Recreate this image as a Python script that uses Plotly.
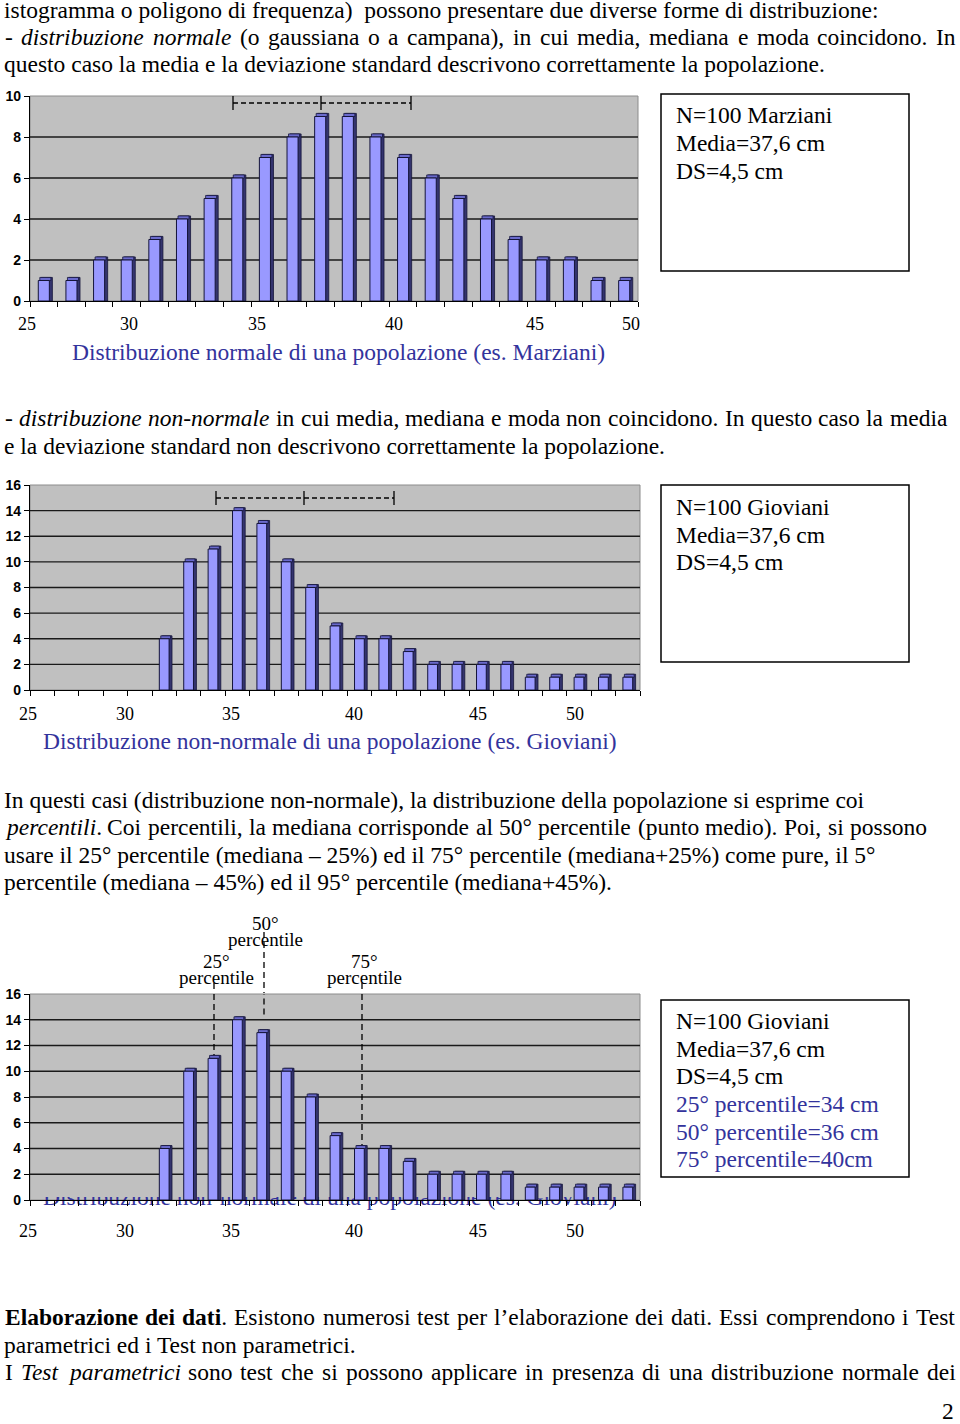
import re
import plotly.graph_objects as go

W, H = 960, 1424


def px(x):
    return x / W


def py(y):
    return 1 - y / H


SERIF = "Times New Roman, Liberation Serif, serif"
SANS = "Arial, Liberation Sans, sans-serif"
BLUE = "#33339c"
FS = 23.5  # body text size

# ---------------- data ----------------
normal_counts = [1, 1, 2, 2, 3, 4, 5, 6, 7, 8, 9, 9, 8, 7, 6, 5, 4, 3, 2, 2, 1, 1]
nonnormal_counts = [None, None, None, None, None,
                    4, 10, 11, 14, 13, 10, 8, 5, 4, 4, 3, 2, 2, 2, 2, 1, 1, 1, 1, 1]
x_labels = ["25", "30", "35", "40", "45", "50"]
yticks_normal = [0, 2, 4, 6, 8, 10]
yticks_nonnormal = [0, 2, 4, 6, 8, 10, 12, 14, 16]
box1_lines = ["N=100 Marziani", "Media=37,6 cm", "DS=4,5 cm"]
box2_lines = ["N=100 Gioviani", "Media=37,6 cm", "DS=4,5 cm"]
box3_blue = ["25° percentile=34 cm", "50° percentile=36 cm", "75° percentile=40cm"]
caption1 = "Distribuzione normale di una popolazione (es. Marziani)"
caption2 = "Distribuzione non-normale di una popolazione (es. Gioviani)"
percentile_names = ["25°", "50°", "75°"]

# (y centre, text, right edge if justified else None)
text_lines = [
    (10, "istogramma o poligono di frequenza)  possono presentare due diverse forme di distribuzione:", None),
    (37, "- <i>distribuzione normale</i> (o gaussiana o a campana), in cui media, mediana e moda coincidono. In", 955),
    (64, "questo caso la media e la deviazione standard descrivono correttamente la popolazione.", None),
    (418, "- <i>distribuzione non-normale</i> in cui media, mediana e moda non coincidono. In questo caso la media", 946),
    (446, "e la deviazione standard non descrivono correttamente la popolazione.", None),
    (800, "In questi casi (distribuzione non-normale), la distribuzione della popolazione si esprime coi", None),
    (827, "<i>percentili</i>. Coi percentili, la mediana corrisponde al 50° percentile (punto medio). Poi, si possono", 926),
    (855, "usare il 25° percentile (mediana – 25%) ed il 75° percentile (mediana+25%) come pure, il 5°", None),
    (882, "percentile (mediana – 45%) ed il 95° percentile (mediana+45%).", None),
    (1317, "<b>Elaborazione dei dati</b>. Esistono numerosi test per l’elaborazione dei dati. Essi comprendono i Test", 955),
    (1345, "parametrici ed i Test non parametrici.", None),
    (1372, "I <i>Test parametrici</i> sono test che si possono applicare in presenza di una distribuzione normale dei", 955),
]

# ---------------- layout geometry (pixels) ----------------
charts = [
    dict(xa="x", ya="y", counts=normal_counts, yticks=yticks_normal,
         left=30, right=638, top=96, bottom=301, dx=0.11, dy=0.15),
    dict(xa="x2", ya="y2", counts=nonnormal_counts, yticks=yticks_nonnormal,
         left=30, right=640, top=485, bottom=690, dx=0.12, dy=0.23),
    dict(xa="x4", ya="y4", counts=nonnormal_counts, yticks=yticks_nonnormal,
         left=30, right=640, top=994, bottom=1200, dx=0.12, dy=0.23),
]

fig = go.Figure()

# caption hidden behind chart 3 (clipped subplot drawn first)
fig.add_trace(go.Scatter(
    x=[43], y=[1199], mode="text", text=[caption2], textposition="middle right",
    textfont=dict(family=SERIF, size=FS, color=BLUE), cliponaxis=True,
    xaxis="x3", yaxis="y3", hoverinfo="skip", showlegend=False))

BAR_W = 0.4
for c in charts:
    n = len(c["counts"])
    xs = list(range(n))
    vals = c["counts"]
    side = [None if v is None else v + c["dy"] for v in vals]
    topf = [None if v is None else c["dy"] for v in vals]
    base = [0 if v is None else v for v in vals]
    fig.add_trace(go.Bar(x=xs, y=side, width=BAR_W, offset=-BAR_W / 2 + c["dx"],
                         marker=dict(color="#34346e", line=dict(color="#14143a", width=0.8)),
                         xaxis=c["xa"], yaxis=c["ya"], showlegend=False, hoverinfo="skip"))
    fig.add_trace(go.Bar(x=xs, y=topf, base=base, width=BAR_W, offset=-BAR_W / 2 + c["dx"] * 0.5,
                         marker=dict(color="#6a6acc", line=dict(color="#14143a", width=0.8)),
                         xaxis=c["xa"], yaxis=c["ya"], showlegend=False, hoverinfo="skip"))
    fig.add_trace(go.Bar(x=xs, y=vals, width=BAR_W, offset=-BAR_W / 2,
                         marker=dict(color="#9999ff", line=dict(color="#14143a", width=1)),
                         xaxis=c["xa"], yaxis=c["ya"], showlegend=False, hoverinfo="skip"))

layout_axes = {}
shapes = []
annotations = []

for i, c in enumerate(charts):
    n = len(c["counts"])
    xk = "xaxis" if c["xa"] == "x" else "xaxis" + c["xa"][1:]
    yk = "yaxis" if c["ya"] == "y" else "yaxis" + c["ya"][1:]
    ymax = c["yticks"][-1]
    layout_axes[xk] = dict(
        domain=[px(c["left"]), px(c["right"])], range=[-0.5, n - 0.5],
        anchor=c["ya"], showgrid=False, zeroline=False, showline=True, automargin=False,
        linecolor="black", linewidth=1.2, ticks="outside", ticklen=5,
        tickcolor="black", tickwidth=1.2,
        tickvals=[k - 0.5 for k in range(n + 1)], showticklabels=False, fixedrange=True)
    layout_axes[yk] = dict(
        domain=[py(c["bottom"]), py(c["top"])], range=[0, ymax],
        anchor=c["xa"], showgrid=False, zeroline=False, showline=True, automargin=False,
        linecolor="black", linewidth=1.2, ticks="outside", ticklen=5,
        tickcolor="black", tickwidth=1.2, tickvals=c["yticks"],
        tickfont=dict(family=SANS, size=14, color="black", weight="bold"), fixedrange=True)
    shapes.append(dict(type="rect", xref=c["xa"] + " domain", yref=c["ya"] + " domain",
                       x0=0, x1=1, y0=0, y1=1, fillcolor="#c0c0c0",
                       line=dict(color="#8c8c8c", width=1), layer="below"))
    for v in c["yticks"][1:-1]:
        shapes.append(dict(type="line", xref=c["xa"] + " domain", yref=c["ya"],
                           x0=0, x1=1, y0=v, y1=v, line=dict(color="#1a1a1a", width=1.3),
                           layer="below"))

layout_axes["xaxis3"] = dict(domain=[0, 1], range=[0, W], visible=False, anchor="y3",
                             fixedrange=True, automargin=False)
layout_axes["yaxis3"] = dict(domain=[py(1215), py(1197)], range=[1215, 1197], visible=False,
                             anchor="x3", fixedrange=True, automargin=False)

# mean +/- SD brackets (pixel positions)
for (yb, xl, xc, xr) in [(103, 233, 321, 411), (498, 216, 304, 394)]:
    shapes.append(dict(type="line", xref="paper", yref="paper", x0=px(xl), x1=px(xr),
                       y0=py(yb), y1=py(yb), line=dict(color="black", width=1.3, dash="5px,3px"),
                       layer="above"))
    for xx in (xl, xc, xr):
        shapes.append(dict(type="line", xref="paper", yref="paper", x0=px(xx), x1=px(xx),
                           y0=py(yb - 7), y1=py(yb + 7), line=dict(color="black", width=1.3),
                           layer="above"))

c3 = charts[2]


def to_cat(xpix, c=c3):
    n = len(c["counts"])
    return (xpix - c["left"]) / (c["right"] - c["left"]) * n - 0.5


for (xx, ytop, ylow_val) in [(214, 983, 0), (264, 932, 14.4), (362, 983, 0)]:
    shapes.append(dict(type="line", xref="paper", yref="paper", x0=px(xx), x1=px(xx),
                       y0=py(ytop), y1=py(c3["top"] - 1),
                       line=dict(color="black", width=1.3, dash="6px,4px"), layer="above"))
    shapes.append(dict(type="line", xref="x4", yref="y4", x0=to_cat(xx), x1=to_cat(xx),
                       y0=ylow_val, y1=16, line=dict(color="black", width=1.3, dash="6px,4px"),
                       layer="below"))

for (y0, y1) in [(94, 271), (485, 662), (1000, 1177)]:
    shapes.append(dict(type="rect", xref="paper", yref="paper", x0=px(661), x1=px(909),
                       y0=py(y1), y1=py(y0), line=dict(color="black", width=1.5),
                       fillcolor="rgba(0,0,0,0)", layer="above"))


def ann(x, y, text, size=FS, color="black", family=SERIF, xanchor="left"):
    annotations.append(dict(x=px(x), y=py(y), xref="paper", yref="paper", text=text,
                            showarrow=False, xanchor=xanchor, yanchor="middle",
                            font=dict(family=family, size=size, color=color)))


# --- approximate Times glyph widths (1/1000 em) for justified lines ---
LOW = "abcdefghijklmnopqrstuvwxyz"
UP = "ABCDEFGHIJKLMNOPQRSTUVWXYZ"
TW = {"": dict(zip(LOW, [444, 500, 444, 500, 444, 333, 500, 500, 278, 278, 500, 278, 778,
                         500, 500, 500, 500, 333, 389, 278, 500, 500, 722, 500, 500, 444])),
      "i": dict(zip(LOW, [500, 500, 444, 500, 444, 278, 500, 500, 278, 278, 444, 278, 722,
                          500, 500, 500, 500, 389, 389, 278, 500, 444, 667, 444, 444, 389])),
      "b": dict(zip(LOW, [500, 556, 444, 556, 444, 333, 500, 556, 278, 333, 556, 278, 833,
                          556, 500, 556, 556, 444, 389, 333, 556, 500, 722, 500, 500, 444]))}
UPW = dict(zip(UP, [722, 667, 667, 722, 611, 556, 722, 722, 333, 389, 722, 611, 889,
                    722, 722, 556, 722, 667, 556, 611, 722, 722, 944, 722, 722, 611]))
PUNCT = {".": 250, ",": 250, "(": 333, ")": 333, "-": 333, ":": 278, "%": 833,
         "°": 400, "+": 564, "–": 500, "’": 333, "=": 564, " ": 250}
for t in TW:
    TW[t].update(UPW)
    TW[t].update(PUNCT)
    for d in "0123456789":
        TW[t][d] = 500
TW["i"]["T"] = 556
TW["b"]["E"] = 667


def text_w(s, tag=""):
    return sum(TW[tag].get(ch, 500) for ch in s) * FS / 1000


def words_of(line):
    parts = re.split(r"(<[ib]>.*?</[ib]>)", line)
    words = []
    glue = False
    for part in parts:
        if not part:
            continue
        m = re.match(r"<([ib])>(.*?)</[ib]>", part)
        tag, txt = (m.group(1), m.group(2)) if m else ("", part)
        chunks = txt.split(" ")
        for k, ch in enumerate(chunks):
            if ch == "":
                glue = False
                continue
            if k == 0 and glue and words:
                words[-1].append((ch, tag))
            else:
                words.append([(ch, tag)])
            glue = True
        if txt.endswith(" "):
            glue = False
    return words


LEFT = 4
for (yy, t, right) in text_lines:
    if right is None:
        ann(LEFT - 2, yy, t)
        continue
    words = words_of(t)
    widths = [sum(text_w(p, tg) for p, tg in w) for w in words]
    natural = sum(widths)
    gap = (right - LEFT - natural) / (len(words) - 1)
    x = LEFT
    for w, wd in zip(words, widths):
        html = "".join(f"<{tg}>{p}</{tg}>" if tg else p for p, tg in w)
        ann(x - 1, yy, html)
        x += wd + gap

ann(956, 1411, "2", xanchor="right")

for k, t in enumerate(box1_lines):
    ann(674, 115 + 28 * k, t)
for k, t in enumerate(box2_lines):
    ann(674, 507 + 27.5 * k, t)
for k, t in enumerate(box2_lines):
    ann(674, 1021 + 27.6 * k, t)
for k, t in enumerate(box3_blue):
    ann(674, 1104 + 27.6 * k, t, color=BLUE)

ann(70, 352, caption1, color=BLUE)
ann(41, 741, caption2, color=BLUE)

for lab, xx in zip(x_labels, [27, 129, 257, 394, 535, 631]):
    ann(xx, 324, lab, size=18, xanchor="center")
for yy in (714, 1231):
    for lab, xx in zip(x_labels, [28, 125, 231, 354, 478, 575]):
        ann(xx, yy, lab, size=18, xanchor="center")

for name, (xx, y_a, y_b) in zip(percentile_names, [(216, 961, 977), (265, 923, 939), (364, 961, 977)]):
    ann(xx, y_a, name, size=19, xanchor="center")
    ann(xx, y_b, "percentile", size=19, xanchor="center")

fig.update_layout(
    width=W, height=H, margin=dict(l=0, r=0, t=0, b=0, autoexpand=False),
    paper_bgcolor="white", plot_bgcolor="rgba(0,0,0,0)",
    barmode="overlay", showlegend=False,
    shapes=shapes, annotations=annotations, **layout_axes)

fig.write_html("out.html")
